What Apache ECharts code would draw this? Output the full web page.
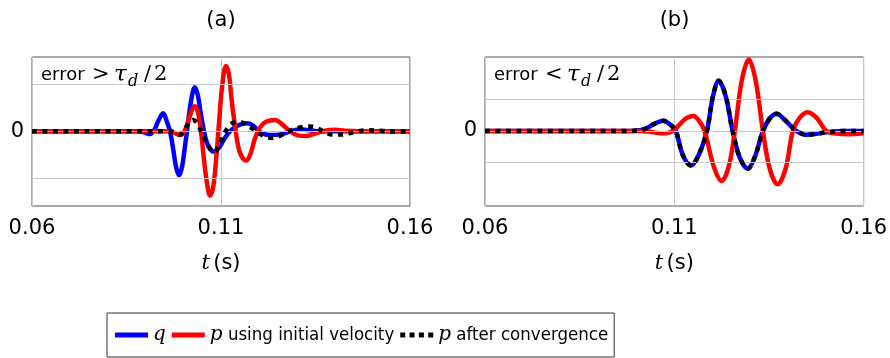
<!DOCTYPE html>
<html><head><meta charset="utf-8">
<script src="https://cdn.jsdelivr.net/npm/echarts@6/dist/echarts.min.js"></script>
<style>html,body{margin:0;padding:0;background:#fff}#c{width:890px;height:358px}</style>
</head><body><div id="c"></div>
<script>
// ---------- data ----------
const panelTitles = ['(a)', '(b)'];
const annotationWords = ['error', 'error'];
const annotationSigns = ['>', '<'];
const xMinMs = 60, xMaxMs = 160, xStepMs = 50;   // ticks 0.06, 0.11, 0.16 s
const yGridValues = [-1, 0, 1];
const yLabelValues = [0];
const seriesNames = ['q', 'p using initial velocity', 'p after convergence'];

// panel (a): [time (ms), value]
const qA = [[60,0],[88.6,0],[89.9,-0.03],[91.2,-0.06],[92.5,0.05],[93.3,0.2],[94.7,0.38],[95.7,0.2],[96.5,0],[97.3,-0.35],[98.1,-0.75],[98.9,-0.93],[99.7,-0.75],[100.5,-0.3],[101.0,0],[101.8,0.5],[102.6,0.85],[103.1,0.93],[103.9,0.75],[104.7,0.35],[105.5,0],[106.3,-0.25],[107.4,-0.4],[108.2,-0.43],[109.7,-0.32],[111.1,-0.13],[112.4,0],[113.7,0.08],[115.0,0.14],[117.1,0.17],[118.5,0.12],[119.8,0.02],[121.1,-0.05],[123.0,-0.08],[126.1,-0.06],[128.3,0],[130.9,0.04],[133.5,0.02],[136.2,0],[160,0]];
const pInitA = [[60,0],[96.5,0],[97.8,-0.04],[99.2,-0.08],[100.2,-0.02],[101.3,0.2],[102.3,0.45],[103.1,0.53],[103.9,0.4],[104.7,0],[105.5,-0.6],[106.3,-1.1],[107.1,-1.36],[107.9,-1.2],[108.7,-0.6],[109.5,0.2],[110.3,0.95],[111.3,1.38],[112.1,1.2],[112.9,0.6],[114.0,-0.05],[115.0,-0.45],[116.6,-0.62],[117.7,-0.5],[119.0,-0.15],[120.3,0.08],[121.9,0.2],[124.3,0.24],[126.4,0.13],[128.3,0],[130.1,-0.08],[132.5,-0.1],[134.9,-0.05],[137.5,0.01],[140.2,0.03],[142.8,0.01],[146.8,0],[160,0]];
const pConvA = [[60,0],[96.5,0],[97.8,-0.03],[99.2,-0.07],[100.2,0],[101.3,0.15],[102.6,0.24],[103.9,0.15],[105.2,-0.1],[106.6,-0.3],[107.6,-0.42],[108.4,-0.44],[109.5,-0.3],[110.5,-0.1],[111.9,0.08],[113.2,0.18],[114.5,0.2],[115.8,0.18],[117.1,0.12],[118.5,0.05],[119.8,-0.03],[121.6,-0.11],[123.5,-0.14],[125.1,-0.11],[126.9,-0.04],[128.8,0.03],[130.9,0.08],[133.0,0.1],[135.1,0.08],[137.2,-0.01],[139.4,-0.07],[141.5,-0.07],[144.1,-0.04],[146.2,0],[148.6,0.02],[152.1,0.01],[156.0,-0.01],[160,0]];

// panel (b): [time (ms), value]
const qB = [[60,0],[96.9,0],[99.6,0.01],[102.2,0.06],[104.6,0.22],[107.0,0.33],[108.8,0.22],[110.4,0],[112.2,-0.75],[114.4,-1.1],[116.5,-0.75],[118.6,0],[120.2,1.1],[121.7,1.6],[123.6,1.1],[125.4,0],[127.3,-0.85],[129.4,-1.2],[131.2,-0.85],[133.4,0],[135.2,0.4],[137.0,0.55],[139.2,0.35],[142.3,0],[145.0,-0.12],[147.9,-0.08],[151.0,-0.03],[155.0,0],[160,0]];
const pInitB = [[60,0],[100.9,0],[103.5,-0.02],[106.2,-0.07],[108.3,-0.06],[110.1,0.05],[111.5,0.22],[113.3,0.42],[115.1,0.48],[116.7,0.3],[118.0,0],[120.4,-1.12],[122.5,-1.59],[124.4,-1.12],[126.0,0],[127.8,1.6],[129.7,2.28],[131.5,1.6],[133.4,0],[135.2,-1.2],[137.3,-1.7],[139.4,-1.2],[141.3,0],[143.1,0.42],[145.2,0.6],[147.6,0.42],[150.2,0],[152.9,-0.08],[155.5,-0.1],[160,-0.07]];
const pConvB = [[60,0],[96.9,0],[99.6,0.01],[102.2,0.06],[104.6,0.22],[107.0,0.33],[108.8,0.22],[110.4,0],[112.2,-0.75],[114.4,-1.1],[116.5,-0.75],[118.6,0],[120.2,1.1],[121.7,1.6],[123.6,1.1],[125.4,0],[127.3,-0.85],[129.4,-1.2],[131.2,-0.85],[133.4,0],[135.2,0.4],[137.0,0.55],[139.2,0.35],[142.3,0],[145.0,-0.12],[147.9,-0.08],[151.0,-0.03],[155.0,0],[160,0]];

const yRanges = [[-1.58, 1.57], [-2.39, 2.36]];

// ---------- chart ----------
const SANS = 'DejaVu Sans', COND = 'DejaVu Sans Condensed', SERIF = 'DejaVu Serif';
const chart = echarts.init(document.getElementById('c'), null, {renderer: 'canvas'});
const grids = [
  {left: 32, top: 57, width: 378, height: 149},
  {left: 485, top: 57, width: 379, height: 149}
];
const LH = 24;
const mathRich = {
  w: {fontFamily: SANS, fontSize: 18, color: '#000', width: 51, lineHeight: LH, verticalAlign: 'middle'},
  g: {fontFamily: SERIF, fontSize: 21, color: '#000', width: 22, lineHeight: LH, verticalAlign: 'middle'},
  m: {fontFamily: SERIF, fontStyle: 'italic', fontSize: 23, color: '#000', width: 14, lineHeight: LH, verticalAlign: 'middle'},
  sub: {fontFamily: SERIF, fontStyle: 'italic', fontSize: 16, color: '#000', width: 13, lineHeight: 30, verticalAlign: 'bottom'},
  sl: {fontFamily: SERIF, fontSize: 21, color: '#000', width: 13, align: 'center', lineHeight: LH, verticalAlign: 'middle'},
  r: {fontFamily: SERIF, fontSize: 21, color: '#000', lineHeight: LH, verticalAlign: 'middle'}
};
const xAxes = grids.map((g, i) => ({
  type: 'value', gridIndex: i, min: xMinMs, max: xMaxMs, interval: xStepMs,
  axisLine: {show: false}, axisTick: {show: false},
  splitLine: {show: true, lineStyle: {color: '#c8c8c8', width: 1}},
  axisLabel: {margin: 12, fontFamily: SANS, fontSize: 21, color: '#000',
    formatter: v => (v / 1000).toFixed(2)},
  name: '{m|t} {s|(s)}', nameLocation: 'middle', nameGap: 47,
  nameTextStyle: {rich: {
    m: {fontFamily: SERIF, fontStyle: 'italic', fontSize: 21, color: '#000'},
    s: {fontFamily: SANS, fontSize: 21, color: '#000'}}}
}));
const yAxes = grids.map((g, i) => ({
  type: 'value', gridIndex: i, min: yRanges[i][0], max: yRanges[i][1],
  axisLine: {show: false}, axisTick: {show: false}, splitLine: {show: false},
  axisLabel: {customValues: yLabelValues, margin: 8, fontFamily: SANS, fontSize: 21, color: '#000',
    formatter: v => String(Math.round(v))}
}));

const panels = [[qA, pInitA, pConvA], [qB, pInitB, pConvB]];
const styles = [
  {color: '#0000ff', width: 4.5, type: 'solid'},
  {color: '#ff0000', width: 4.5, type: 'solid'},
  {color: '#000000', width: 4.5, type: [5, 5.5]}
];
const legendIcons = [
  'path://M0 0H33V5H0Z',
  'path://M0 0H33V5H0Z',
  'path://M0 0H5V5H0Z M9.33 0H14.33V5H9.33Z M18.67 0H23.67V5H18.67Z M28 0H33V5H28Z'
];
const series = [];
panels.forEach((sets, i) => {
  series.push({
    type: 'line', xAxisIndex: i, yAxisIndex: i, data: [], silent: true, z: 1,
    markLine: {silent: true, symbol: 'none', label: {show: false},
      lineStyle: {color: '#c8c8c8', width: 1, type: 'solid'},
      animation: false,
      data: yGridValues.map(v => ({yAxis: v}))}
  });
  sets.forEach((d, k) => {
    series.push({
      name: seriesNames[k], type: 'line', xAxisIndex: i, yAxisIndex: i,
      data: d, smooth: 0.35, showSymbol: false, symbol: 'none', z: 3 + k,
      color: styles[k].color,
      lineStyle: {color: styles[k].color, width: styles[k].width, type: styles[k].type, cap: 'butt'}
    });
  });
});

const graphics = [];
panelTitles.forEach((t, i) => {
  graphics.push({type: 'text', x: grids[i].left + grids[i].width / 2, y: 21,
    style: {text: t, fontFamily: SANS, fontSize: 21, fill: '#000', align: 'center', verticalAlign: 'middle'}});
  graphics.push({type: 'text', x: grids[i].left + 9, y: 75, z: 10,
    style: {text: '{w|' + annotationWords[i] + '}{g|' + annotationSigns[i] + '}{m|τ}{sub|d}{sl|/}{r|2}',
      rich: mathRich, align: 'left', verticalAlign: 'middle'}});
});

const legendRich = {
  i: {fontFamily: SERIF, fontStyle: 'italic', fontSize: 20, color: '#000', lineHeight: 22}
};
chart.setOption({
  animation: false,
  grid: grids.map(g => Object.assign({show: true, borderColor: '#555', borderWidth: 1, backgroundColor: 'transparent'}, g)),
  xAxis: xAxes, yAxis: yAxes, series: series,
  graphic: graphics,
  legend: {
    data: seriesNames.map((n, k) => (k === 0
      ? {name: n, icon: legendIcons[k], textStyle: {fontFamily: SERIF, fontStyle: 'italic', fontSize: 20, color: '#000'}}
      : {name: n, icon: legendIcons[k]})),
    left: 107, top: 313, orient: 'horizontal',
    padding: [11, 6, 11, 8], itemGap: 6, itemWidth: 33, itemHeight: 5,
    borderColor: '#333', borderWidth: 1, selectedMode: false,
    textStyle: {fontFamily: COND, fontSize: 18.5, color: '#000', lineHeight: 22, rich: legendRich},
    formatter: n => n === 'q' ? 'q' : '{i|p}' + n.slice(1)
  }
});
</script></body></html>
